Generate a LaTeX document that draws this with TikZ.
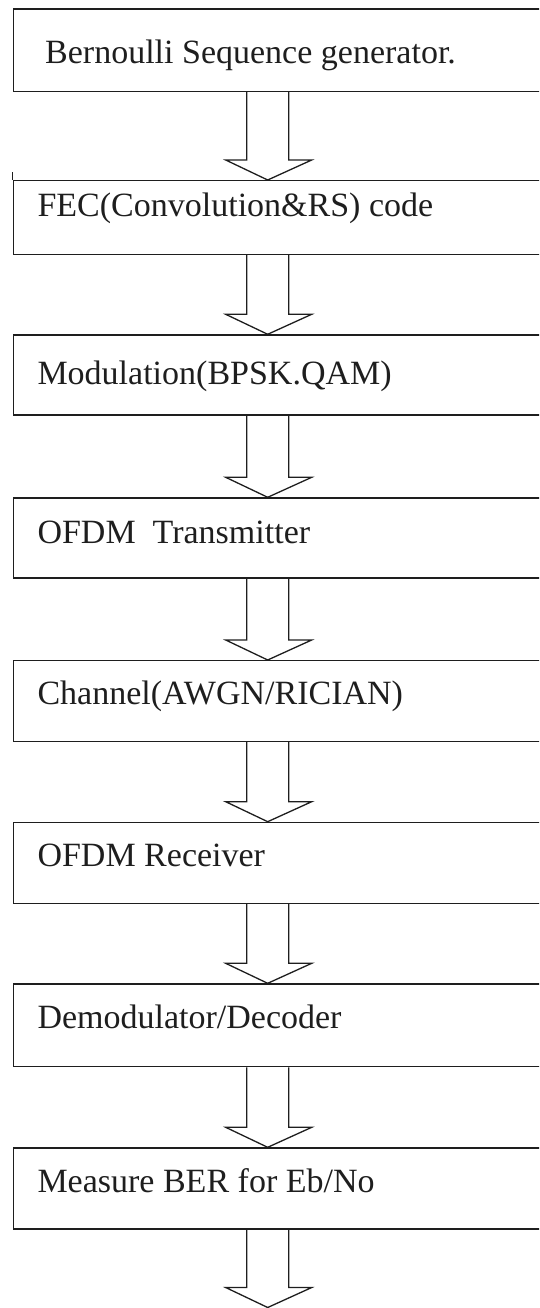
\documentclass[tikz,border=0pt]{standalone}
\usepackage{fontspec}
\setmainfont{Liberation Serif}
\usetikzlibrary{calc}
\definecolor{ink}{HTML}{1E1E1E}
\tikzset{
  stagebox/.style={draw=ink, line width=1.3pt, rectangle, inner sep=0pt, anchor=north west, minimum width=560pt},
  stagetext/.style={inner sep=0pt, anchor=base west, text=ink, font=\fontsize{34}{40}\selectfont},
  blockarrow/.style={draw=ink, line width=1.3pt, line join=miter}
}
\newcommand{\flowarrow}[2]{%
  \draw[blockarrow] ($(#1.south -| ax)+(-21,0)$) -- ($(#2 -| ax)+(-21,-20)$) -- ($(#2 -| ax)+(-42,-20)$)
    -- (#2 -| ax) -- ($(#2 -| ax)+(44,-20)$) -- ($(#2 -| ax)+(21,-20)$) -- ($(#1.south -| ax)+(21,0)$);}
\begin{document}
\begin{tikzpicture}[x=1pt,y=-1pt]
\useasboundingbox (0,0) rectangle (539,1308);
\clip (0,0) rectangle (539,1308);
\coordinate (ax) at (267.7,0);
% boxes
\node[stagebox, minimum height=82.4pt] (b1) at (12.7,8.3) {};
\node[stagebox, minimum height=73.5pt] (b2) at (12.7,180) {};
\node[stagebox, minimum height=80pt] (b3) at (12.7,334.3) {};
\node[stagebox, minimum height=80pt] (b4) at (12.7,497.3) {};
\node[stagebox, minimum height=80.7pt] (b5) at (12.7,660) {};
\node[stagebox, minimum height=81pt] (b6) at (12.7,821.7) {};
\node[stagebox, minimum height=82.7pt] (b7) at (12.7,983.3) {};
\node[stagebox, minimum height=81pt] (b8) at (12.7,1147.3) {};
\draw[ink, line width=1.3pt] (b2.north west) -- ++(0,-8.3);
% texts
\node[stagetext] (t1) at (45,63.3) {Bernoulli Sequence generator.};
\node[stagetext] (t2) at (37.3,216.7) {FEC(Convolution\&RS) code};
\node[stagetext] (t3) at (37.3,384.5) {Modulation(BPSK.QAM)};
\node[stagetext] (t4) at (37.3,543.3) {OFDM\ \ Transmitter};
\node[stagetext] (t5) at (37.3,704) {Channel(AWGN/RICIAN)};
\node[stagetext] (t6) at (37.3,866.7) {OFDM Receiver};
\node[stagetext] (t7) at (37.3,1028.3) {Demodulator/Decoder};
\node[stagetext] (t8) at (37.3,1192.7) {Measure BER for Eb/No};
% arrows
\coordinate (end) at (267.7,1307.5);
\flowarrow{b1}{b2.north}
\flowarrow{b2}{b3.north}
\flowarrow{b3}{b4.north}
\flowarrow{b4}{b5.north}
\flowarrow{b5}{b6.north}
\flowarrow{b6}{b7.north}
\flowarrow{b7}{b8.north}
\flowarrow{b8}{end}
\end{tikzpicture}
\end{document}
